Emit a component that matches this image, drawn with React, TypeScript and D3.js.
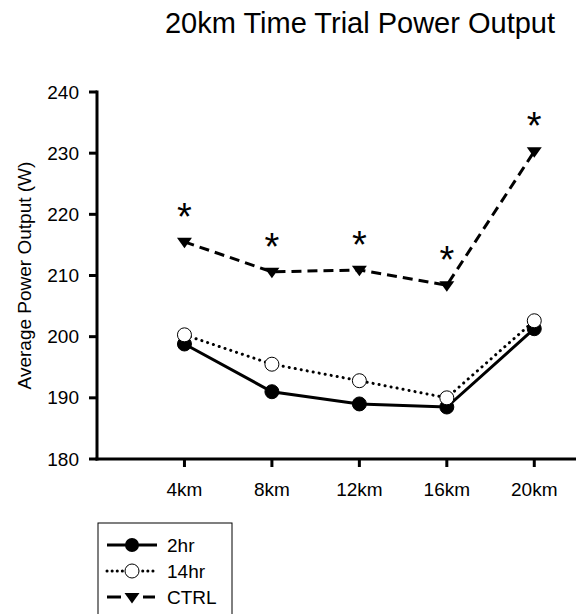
import React from "react";
import * as d3 from "d3";

const categories = ["4km", "8km", "12km", "16km", "20km"];
const distances = [4, 8, 12, 16, 20];
const series2hr = [198.8, 191.0, 189.0, 188.5, 201.3];
const series14hr = [200.3, 195.5, 192.8, 190.0, 202.6];
const seriesCtrl = [215.5, 210.6, 210.9, 208.4, 230.3];
const significant = [true, true, true, true, true];
const yTicks = [180, 190, 200, 210, 220, 230, 240];
const seriesNames = ["2hr", "14hr", "CTRL"];

const W = 576;
const H = 614;
const FONT = "'Liberation Sans', Arial, sans-serif";

export default function App() {
  const x = d3.scaleLinear().domain([0, 22]).range([97, 578]);
  const y = d3.scaleLinear().domain([180, 240]).range([459, 92]);
  const line = d3
    .line<number>()
    .x((_, i) => x(distances[i]))
    .y((d) => y(d));

  const tri = (cx: number, cy: number, s: number) =>
    `M${cx - s},${cy - s * 0.55} L${cx + s},${cy - s * 0.55} L${cx},${cy + s * 0.85} Z`;

  const dotted = "0.1,6";
  const dashed = "10,6";

  return (
    <svg
      width={W}
      height={H}
      style={{ position: "absolute", left: 0, top: 0, background: "#fff" }}
      fontFamily={FONT}
    >
      <rect width={W} height={H} fill="#fff" />
      <text x={360} y={33} fontSize={29} textAnchor="middle" fill="#000">
        20km Time Trial Power Output
      </text>
      {/* y axis label */}
      <text
        transform={`translate(31,${y(210)}) rotate(-90)`}
        fontSize={19}
        textAnchor="middle"
        fill="#000"
      >
        Average Power Output (W)
      </text>
      {/* axes */}
      <line x1={x(0)} x2={x(0)} y1={y(240) - 1.5} y2={y(180) + 1.5} stroke="#000" strokeWidth={3} />
      <line x1={x(0) - 1.5} x2={W + 2} y1={y(180)} y2={y(180)} stroke="#000" strokeWidth={3} />
      {yTicks.map((t) => (
        <g key={t}>
          <line x1={x(0) - 8} x2={x(0)} y1={y(t)} y2={y(t)} stroke="#000" strokeWidth={3} />
          <text x={x(0) - 18} y={y(t)} dy="0.35em" fontSize={19} textAnchor="end" fill="#000">
            {t}
          </text>
        </g>
      ))}
      {categories.map((c, i) => (
        <g key={c}>
          <line x1={x(distances[i])} x2={x(distances[i])} y1={y(180)} y2={y(180) + 8} stroke="#000" strokeWidth={3} />
          <text x={x(distances[i])} y={y(180) + 37} fontSize={19} textAnchor="middle" fill="#000">
            {c}
          </text>
        </g>
      ))}
      {/* lines */}
      <path d={line(seriesCtrl) || ""} fill="none" stroke="#000" strokeWidth={3} strokeDasharray={dashed} />
      <path d={line(series14hr) || ""} fill="none" stroke="#000" strokeWidth={3} strokeDasharray={dotted} strokeLinecap="round" />
      <path d={line(series2hr) || ""} fill="none" stroke="#000" strokeWidth={3} />
      {series2hr.map((v, i) => (
        <circle key={"a" + i} cx={x(distances[i])} cy={y(v)} r={7} fill="#000" stroke="#000" strokeWidth={1} />
      ))}
      {series14hr.map((v, i) => (
        <circle key={"b" + i} cx={x(distances[i])} cy={y(v)} r={7} fill="#fff" stroke="#000" strokeWidth={1} />
      ))}
      {seriesCtrl.map((v, i) => (
        <path key={"c" + i} d={tri(x(distances[i]), y(v), 7.5)} fill="#000" />
      ))}
      {seriesCtrl.map((v, i) =>
        significant[i] ? (
          <text key={"s" + i} x={x(distances[i])} y={y(v) - 12} fontSize={38} textAnchor="middle" fill="#000">
            *
          </text>
        ) : null
      )}
      {/* legend */}
      <rect x={98} y={523} width={134} height={100} fill="#fff" stroke="#000" strokeWidth={1} />
      {seriesNames.map((n, i) => {
        const cy = 545 + i * 26;
        const cx = 132;
        return (
          <g key={n}>
            {i === 2 ? (
              <g>
                <line x1={107} x2={121} y1={cy} y2={cy} stroke="#000" strokeWidth={3} />
                <line x1={143} x2={155} y1={cy} y2={cy} stroke="#000" strokeWidth={3} />
              </g>
            ) : (
              <line
                x1={107}
                x2={157}
                y1={cy}
                y2={cy}
                stroke="#000"
                strokeWidth={3}
                strokeLinecap={i === 1 ? "round" : "butt"}
                strokeDasharray={i === 0 ? undefined : "0.1,5"}
              />
            )}
            {i === 0 && <circle cx={cx} cy={cy} r={7} fill="#000" />}
            {i === 1 && <circle cx={cx} cy={cy} r={7} fill="#fff" stroke="#000" strokeWidth={1} />}
            {i === 2 && <path d={tri(cx, cy, 7.5)} fill="#000" />}
            <text x={167} y={cy} dy="0.35em" fontSize={19} fill="#000">
              {n}
            </text>
          </g>
        );
      })}
    </svg>
  );
}
